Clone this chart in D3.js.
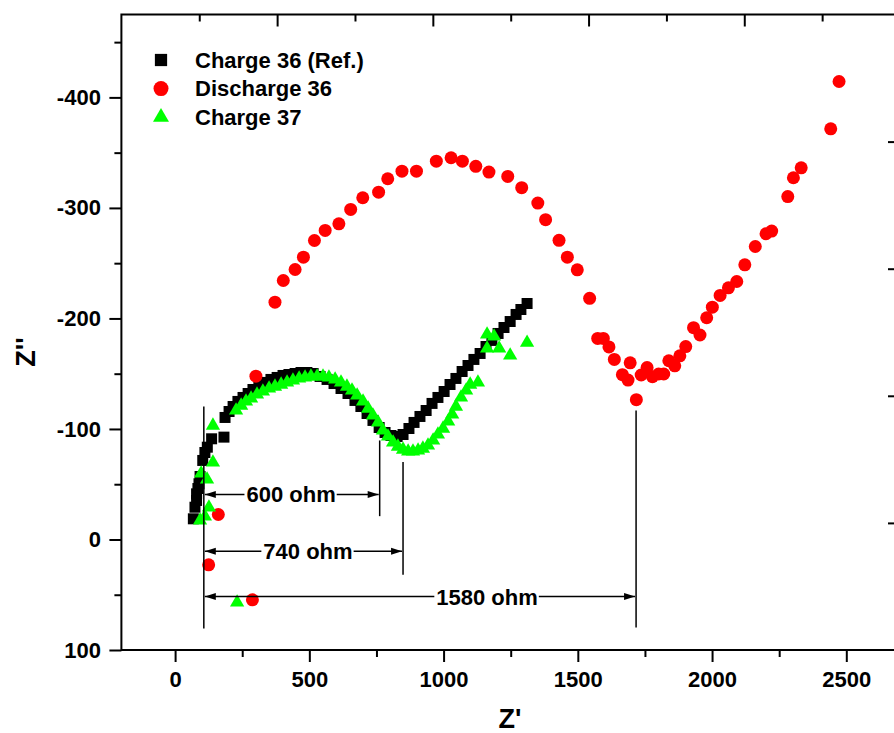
<!DOCTYPE html>
<html>
<head>
<meta charset="utf-8">
<script src="https://cdn.jsdelivr.net/npm/d3@7"></script>
<style>
  html, body { margin: 0; padding: 0; background: #fff; }
  svg text { font-family: Arial, "Liberation Sans", Helvetica, sans-serif; font-weight: bold; }
</style>
</head>
<body>
<div id="chart"></div>
<script>
// data: [Z', value on the Z'' axis]
const charge36 = [
  [68, -18.7], [74, -29.2], [80, -35.3], [80, -41.3], [85, -46.1], [89, -50.4], [93, -57],
  [103, -71.5], [111, -78.7], [120, -83.5], [136, -91.1], [182, -92.6], [186, -110.4],
  [201, -115.8], [216, -120.3], [234, -124.9], [253, -128.5], [272, -132.1], [290, -135.7],
  [312, -139.3], [335, -142.1], [357, -144.8], [380, -146.6], [402, -148.4], [424, -149.3],
  [447, -150.2], [469, -151.1], [491, -151.1], [514, -150.2], [540, -147.5], [566, -144.8],
  [592, -141.1], [618, -136.6], [644, -132.1], [670, -125.8], [692, -120.3], [715, -114],
  [737, -107.7], [760, -101.3], [782, -96.8], [804, -94.1], [827, -93.2], [849, -95],
  [871, -100.4], [890, -105.9], [912, -111.3], [935, -116.7], [957, -123.1], [979, -128.5],
  [1002, -133.9], [1024, -140.2], [1046, -145.7], [1069, -152], [1091, -157.4], [1113, -162.9],
  [1136, -168.3], [1158, -174.6], [1180, -180.1], [1203, -186.4], [1225, -191.8],
  [1248, -197.2], [1270, -203.6], [1288, -208.1], [1311, -213.5]
]

const discharge36 = [
  [125, 22.9], [161, -22.6], [288, 54.6], [301, -147.8],
  [372, -214.7], [403, -234.3], [447, -244.3], [478, -255.4], [519, -270.5], [559, -279.6],
  [610, -285.6], [654, -298.6], [699, -309.2], [758, -314.2], [792, -326.4], [845, -333.2],
  [899, -333.2], [973, -342.3], [1028, -345.4], [1070, -342.3], [1120, -337.6], [1169, -332.4],
  [1239, -328.5], [1291, -318.3], [1351, -304.4], [1380, -289.4], [1430, -270.7], [1461, -255.4],
  [1498, -244.0], [1544, -218.2], [1574, -181.9], [1595, -181.9], [1616, -174.2], [1636, -162.9],
  [1666, -149.1], [1687, -144.2], [1695, -159.8], [1718, -126.5], [1736, -148.8], [1758, -155.5],
  [1778, -147.3], [1801, -149.7], [1820, -149.7], [1839, -161.7], [1861, -157.1], [1880, -166.2],
  [1902, -174.5], [1931, -191.6], [1955, -185.0], [1980, -200.6], [2001, -210.2], [2030, -220.8],
  [2061, -227.7], [2092, -233.4], [2122, -248.5], [2161, -265.1], [2201, -276.6], [2222, -279.0],
  [2282, -310.3], [2303, -327.3], [2332, -336.3], [2442, -371.6], [2473, -414.4]
]

const charge37 = [
  [93, -17.2], [111, -20.8], [126, -29], [97, -59.7], [119, -54.3], [141, -69.7], [141, -103.1],
  [231, 57],
  [227, -116.7], [246, -121.2], [264, -124.9], [283, -127.6], [305, -131.2], [327, -133.9],
  [350, -136.6], [372, -138.4], [395, -140.2], [417, -142.1], [439, -143.9], [462, -145.7],
  [484, -146.6], [506, -147.5], [529, -147.5], [551, -147.5], [573, -146.6], [596, -144.8],
  [618, -142.1], [640, -138.4], [659, -134.8], [678, -130.3], [700, -124.9], [719, -118.5],
  [737, -112.2], [756, -105.9], [774, -98.6], [793, -93.2], [812, -87.8], [830, -84.1],
  [849, -81.4], [868, -79.6], [886, -79.6], [905, -80.5], [923, -82.3], [942, -85.1],
  [961, -89.6], [979, -95], [998, -100.4], [1017, -106.8], [1032, -113.1], [1046, -120.3],
  [1065, -128.5], [1084, -134.8], [1099, -140.2], [1128, -142.1],
  [1162, -185.5], [1188, -183.7], [1162, -172.8], [1207, -172.8], [1248, -166.5], [1311, -178]
]

const xTicks = [0, 500, 1000, 1500, 2000, 2500]
const xMinorTicks = [250, 750, 1250, 1750, 2250]
const yTicks = [-400, -300, -200, -100, 0, 100]
const yMinorTicks = [-450, -350, -250, -150, -50, 50]

const legendNames = ['Charge 36 (Ref.)', 'Discharge 36', 'Charge 37']

// resistance markers: reference line at Z' = 107
const refZ = 107
const refLine = [-120.3, 80.5]
const dimensions = [
  { label: '600 ohm',  y: -40.7, end: 762,  top: -89.6,  bottom: -21.1, textZ: 432 },
  { label: '740 ohm',  y: 10.6,  end: 849,  top: -70,    bottom: 31.9,  textZ: 495 },
  { label: '1580 ohm', y: 51.6,  end: 1717, top: -116.7, bottom: 79.6,  textZ: 1162 }
]

const width   = 894,
      height  = 733,
      mLeft   = 121.4,
      mTop    = 14.5,
      mRight  = 900,
      mBottom = 650

const svg = d3.select('#chart').append('svg')
  .attr('width', width)
  .attr('height', height)

const x = d3.scaleLinear().domain([-200, 2700]).range([mLeft, mRight])
const y = d3.scaleLinear().domain([-475, 100]).range([mTop, mBottom])
// the opposite axes carry their own evenly spaced ticks
const xTop = d3.scaleLinear().domain([0, 10]).range([mLeft, mRight])
const yRight = d3.scaleLinear().domain([0, 5]).range([mTop, mBottom])

const fmt = d => String(d)

// bottom axis
const gx = svg.append('g').attr('transform', `translate(0,${mBottom})`)
gx.call(d3.axisBottom(x).tickValues(xTicks).tickSize(12).tickFormat(fmt))
gx.append('g').call(d3.axisBottom(x).tickValues(xMinorTicks).tickSize(7).tickFormat(''))
gx.selectAll('.tick line').attr('stroke', '#000').attr('stroke-width', 2)
gx.selectAll('.tick text').attr('y', 21).attr('font-size', 22).attr('fill', '#000')

// left axis
const gy = svg.append('g').attr('transform', `translate(${mLeft},0)`)
gy.call(d3.axisLeft(y).tickValues(yTicks).tickSize(12).tickFormat(fmt))
gy.append('g').call(d3.axisLeft(y).tickValues(yMinorTicks).tickSize(7).tickFormat(''))
gy.selectAll('.tick line').attr('stroke', '#000').attr('stroke-width', 2)
gy.selectAll('.tick text').attr('x', -20.5).attr('font-size', 22).attr('fill', '#000')

// top axis, ticks pointing inward
const gt = svg.append('g').attr('transform', `translate(0,${mTop})`)
gt.call(d3.axisBottom(xTop).tickValues([2, 4, 6, 8]).tickSize(12).tickFormat(''))
gt.append('g').call(d3.axisBottom(xTop).tickValues([1, 3, 5, 7, 9]).tickSize(7).tickFormat(''))
gt.selectAll('.tick line').attr('stroke', '#000').attr('stroke-width', 2)

// right axis, only the major ticks reach into view
const gr = svg.append('g').attr('transform', `translate(${mRight},0)`)
gr.call(d3.axisLeft(yRight).tickValues([1, 2, 3, 4]).tickSize(12).tickFormat(''))
gr.selectAll('.tick line').attr('stroke', '#000').attr('stroke-width', 2)

svg.selectAll('.domain').remove()

// frame
svg.append('rect')
  .attr('x', mLeft)
  .attr('y', mTop)
  .attr('width', mRight - mLeft)
  .attr('height', mBottom - mTop)
  .attr('fill', 'none')
  .attr('stroke', '#000')
  .attr('stroke-width', 2)

// axis titles
svg.append('text')
  .attr('x', 510)
  .attr('y', 728)
  .attr('text-anchor', 'middle')
  .attr('font-size', 27)
  .text("Z'")

svg.append('text')
  .attr('transform', 'translate(35,352) rotate(-90)')
  .attr('text-anchor', 'middle')
  .attr('font-size', 27)
  .text("Z''")

// markers
const squareSym = d3.symbol().type(d3.symbolSquare).size(121)
const circleSym = d3.symbol().type(d3.symbolCircle).size(Math.PI * 6.5 * 6.5)
const triSym = d3.symbol().type(d3.symbolTriangle).size(88)

const plot = svg.append('g')

plot.selectAll('.c36')
  .data(charge36)
  .enter()
  .append('path')
    .attr('class', 'c36')
    .attr('d', squareSym)
    .attr('transform', d => `translate(${x(d[0])},${y(d[1])})`)
    .attr('fill', '#000')

plot.selectAll('.d36')
  .data(discharge36)
  .enter()
  .append('path')
    .attr('class', 'd36')
    .attr('d', circleSym)
    .attr('transform', d => `translate(${x(d[0])},${y(d[1])})`)
    .attr('fill', '#ff0000')

plot.selectAll('.c37')
  .data(charge37)
  .enter()
  .append('path')
    .attr('class', 'c37')
    .attr('d', triSym)
    .attr('transform', d => `translate(${x(d[0])},${y(d[1])})`)
    .attr('fill', '#00ff00')

// resistance annotations
const ann = svg.append('g').attr('stroke', '#000').attr('stroke-width', 1.5)

ann.append('line')
  .attr('x1', x(refZ)).attr('x2', x(refZ))
  .attr('y1', y(refLine[0])).attr('y2', y(refLine[1]))

const arrowHead = (px, py, dir) => {
  // dir -1 points left, 1 points right
  svg.append('path')
    .attr('d', `M${px},${py} L${px - dir * 11},${py - 3.5} L${px - dir * 11},${py + 3.5} Z`)
    .attr('fill', '#000')
}

dimensions.forEach(dim => {
  const py = y(dim.y)
  const x0 = x(refZ)
  const x1 = x(dim.end)

  ann.append('line')
    .attr('x1', x1).attr('x2', x1)
    .attr('y1', y(dim.top)).attr('y2', y(dim.bottom))

  const label = svg.append('text')
    .attr('x', x(dim.textZ))
    .attr('y', py + 8)
    .attr('text-anchor', 'middle')
    .attr('font-size', 22)
    .text(dim.label)

  const box = label.node().getBBox()
  ann.append('line')
    .attr('x1', x0 + 1).attr('x2', box.x - 2)
    .attr('y1', py).attr('y2', py)
  ann.append('line')
    .attr('x1', box.x + box.width + 1).attr('x2', x1 - 1)
    .attr('y1', py).attr('y2', py)

  arrowHead(x0 + 1, py, -1)
  arrowHead(x1 - 1, py, 1)
})

// legend
const legend = svg.append('g')
const legendSyms = [
  { sym: d3.symbol().type(d3.symbolSquare).size(150), color: '#000' },
  { sym: d3.symbol().type(d3.symbolCircle).size(Math.PI * 7.5 * 7.5), color: '#ff0000' },
  { sym: d3.symbol().type(d3.symbolTriangle).size(110), color: '#00ff00' }
]

legendNames.forEach((name, i) => {
  const cy = 60 + i * 28.6
  legend.append('path')
    .attr('d', legendSyms[i].sym)
    .attr('transform', `translate(161,${cy})`)
    .attr('fill', legendSyms[i].color)
  legend.append('text')
    .attr('x', 195)
    .attr('y', cy + 7.5)
    .attr('font-size', 22)
    .text(name)
})
</script>
</body>
</html>
